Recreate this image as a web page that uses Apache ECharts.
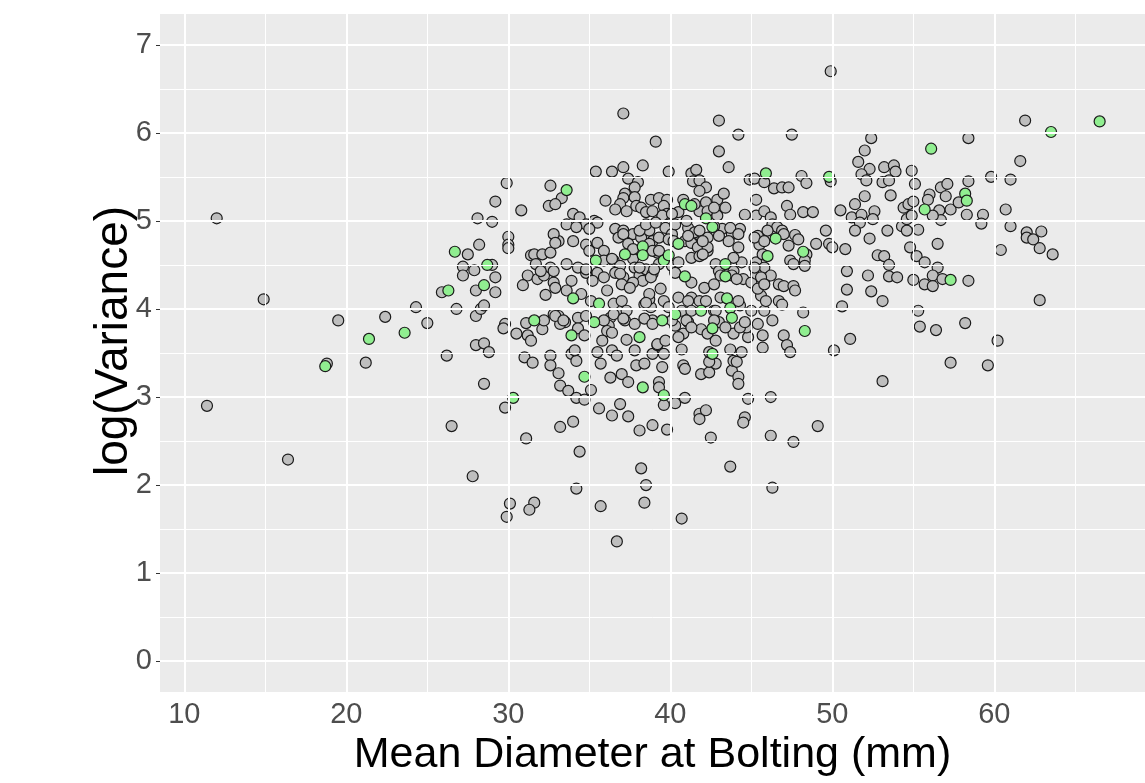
<!DOCTYPE html>
<html>
<head>
<meta charset="utf-8">
<script src="https://cdn.jsdelivr.net/npm/echarts@6/dist/echarts.min.js"></script>
<style>
  html, body { margin: 0; padding: 0; background: #fff; }
  #chart { width: 1145px; height: 783px; }
</style>
</head>
<body>
<div id="chart"></div>
<script>
// mean diameter at bolting (mm) / log(variance), plants in gray
const grayDiam = [
  11.4, 12.0, 14.9, 16.4, 18.8, 19.5, 21.2, 22.4, 24.3, 25.0, 25.9, 26.2, 26.5, 27.8, 26.8, 28.0, 28.3, 28.5, 28.0, 28.5,
  28.8, 28.5, 29.8, 31.1, 29.8, 29.7, 30.5, 31.2, 31.4, 31.1, 32.1, 32.2, 31.0, 31.5, 32.6, 32.6, 32.3, 29.2, 28.0, 30.1,
  31.6, 31.3, 29.9, 35.7, 36.7, 38.5, 38.4, 40.7, 34.2, 38.2, 43.7, 46.3,
  29.9, 32.6, 29.2, 30.8, 32.5, 28.1, 29.0, 30.0, 30.0, 30.0, 28.2, 27.5, 27.2, 27.9, 27.2, 29.0, 29.2, 31.4, 31.6, 32.1,
  32.6, 31.7, 31.2, 31.8, 32.2, 30.9, 32.6, 32.8,
  37.1, 43.0, 44.2, 39.1, 43.0, 43.6, 35.4, 36.4, 37.1, 38.3, 39.9, 44.9, 45.2, 45.8, 41.3, 41.6, 41.4, 41.8, 42.2, 41.8,
  37.4, 38.0, 37.8, 33.3, 32.9, 37.2, 37.1, 36.9, 37.8, 37.9, 36.0, 36.6, 37.3, 38.2, 38.5, 38.8, 39.3, 39.8, 39.6, 39.8,
  39.5, 40.8, 40.5, 42.2, 42.9, 43.3, 43.4, 41.8, 42.3, 42.9, 44.6, 45.3, 45.8, 45.3, 34.0, 34.4, 34.8, 35.3, 35.5, 33.6,
  34.2, 35.0, 34.0, 34.8, 35.5, 33.1, 32.8, 36.6, 37.1, 36.8, 37.7, 38.2, 38.7, 38.9, 39.3, 39.7, 40.1, 39.9, 40.9, 41.3,
  41.7, 42.3, 41.7, 42.3, 41.1, 41.5, 43.2, 43.8, 44.3, 44.2, 44.4, 43.9, 45.4, 45.5, 45.3, 45.8, 35.0, 35.9, 35.9, 33.6,
  34.3, 34.8, 35.5, 36.5, 36.9, 36.6, 37.1, 37.7, 37.8, 38.1, 38.5, 38.9, 39.2, 39.3, 40.1, 40.3, 40.5, 41.3, 41.8, 42.3,
  42.8, 43.0, 43.9, 44.5, 45.0, 45.3, 45.8,
  47.5, 52.4, 58.4, 52.0, 51.6, 52.3, 51.8, 52.1, 53.2, 53.8, 53.9, 54.9, 53.1, 53.5, 55.1, 53.6, 52.0, 51.4, 49.9, 48.1,
  48.4, 46.4, 46.9, 47.3, 47.2, 47.4, 48.2, 48.8, 50.5, 51.2, 51.8, 51.7, 51.4, 52.6, 52.5, 49.6, 49.8, 50.0, 50.8, 49.0,
  52.3, 53.4, 54.3, 54.6, 54.9, 55.3, 54.6, 54.4, 54.7, 55.0, 56.0, 55.9, 56.7, 57.1, 57.0, 56.6, 56.7, 56.2, 57.3, 57.8,
  58.4, 58.3, 59.3, 59.2, 46.2, 46.3, 46.6, 46.9, 47.0, 47.7, 47.9, 47.3, 48.4, 48.3, 48.3, 47.4, 47.6, 46.2, 46.7, 47.0,
  47.6, 50.9, 52.2, 52.8, 53.2, 53.5, 53.5, 54.0, 54.8, 55.2, 55.7, 56.5, 56.5, 56.2, 56.8, 55.7, 56.2, 58.4, 55.0, 50.9,
  61.9, 61.6, 59.8, 61.0, 60.7, 61.0, 62.0, 62.0, 62.4, 62.9, 62.8, 63.6, 60.4, 62.8, 60.2, 59.6,
  46.7, 46.9, 47.7, 52.4, 53.1, 50.6, 48.2, 46.3, 47.0, 47.2, 47.4, 51.1, 50.1, 55.3, 55.4, 56.4, 58.2, 57.3, 53.1, 46.2,
  49.1, 46.2, 47.6, 49.9,
  33.2, 34.0, 34.4, 35.6, 36.4, 36.9, 37.4, 38.1, 38.9, 39.8, 39.6, 40.3, 40.9, 41.8, 41.8, 42.2, 42.5, 44.6, 44.5, 44.8,
  33.1, 33.2, 33.7, 34.2, 34.7, 35.1, 33.9, 34.2, 34.1, 35.5, 35.7, 36.3, 36.4, 36.7, 37.0, 37.4, 37.8, 37.9, 38.4, 38.9,
  39.2, 39.6, 39.5, 39.3, 39.3, 40.8, 40.9, 41.9, 42.4, 42.8, 42.4, 42.4, 43.8, 44.2, 44.2, 43.9, 44.1, 44.4, 43.7, 45.7,
  45.7, 44.8, 44.7, 32.8, 33.1, 33.5, 33.2, 34.3, 34.8, 34.3, 34.7, 36.3, 36.2, 36.1, 36.4, 35.8, 36.9, 37.2, 37.3, 37.8,
  38.4, 38.8, 38.9, 38.7, 39.2, 39.7, 40.3, 40.8, 41.1, 40.5, 40.7, 41.3, 41.8, 41.9, 42.3, 42.8, 42.7, 43.0, 43.9, 44.3,
  44.3, 45.0, 45.6
];
const grayLogVar = [
  2.90, 5.03, 4.11, 2.29, 3.38, 3.87, 3.39, 3.91, 4.02, 3.84, 4.19, 3.47, 2.67, 2.10, 4.00, 3.92, 4.00, 4.04, 3.59, 3.61,
  3.51, 3.15, 2.88, 2.53, 3.83, 3.78, 3.72, 3.70, 3.64, 3.84, 3.77, 3.87, 3.45, 3.39, 3.47, 3.36, 4.16, 4.19, 4.21, 1.79,
  1.80, 1.72, 1.64, 1.76, 1.36, 2.00, 1.80, 1.62, 1.96, 2.19, 2.21, 1.97,
  5.43, 5.40, 5.22, 5.12, 5.17, 5.03, 4.99, 4.82, 4.73, 4.69, 4.73, 4.62, 4.48, 4.44, 4.38, 4.50, 4.36, 4.61, 4.62, 4.62,
  4.64, 4.51, 4.38, 4.34, 4.38, 4.27, 4.47, 4.30,
  6.22, 6.14, 5.98, 5.90, 5.79, 5.61, 5.56, 5.56, 5.61, 5.63, 5.56, 5.47, 5.48, 5.44, 5.54, 5.58, 5.45, 5.46, 5.38, 5.34,
  5.48, 5.44, 5.38, 5.26, 5.19, 5.31, 5.26, 5.19, 5.27, 5.17, 5.23, 5.13, 5.11, 5.15, 5.10, 5.24, 5.26, 5.24, 5.17, 5.08,
  5.06, 5.24, 5.10, 5.21, 5.24, 5.31, 5.15, 5.11, 5.11, 5.06, 5.07, 5.06, 5.11, 5.24, 5.08, 5.04, 4.96, 5.00, 4.98, 4.96,
  4.93, 4.91, 4.77, 4.73, 4.75, 4.77, 4.85, 4.91, 4.89, 4.81, 4.85, 4.81, 4.89, 4.77, 4.81, 4.92, 4.85, 4.79, 4.77, 4.75,
  4.85, 4.81, 4.70, 4.66, 4.92, 4.87, 4.91, 4.85, 4.91, 4.70, 4.53, 4.58, 4.83, 4.73, 4.53, 4.47, 4.66, 4.66, 4.55, 4.51,
  4.47, 4.41, 4.41, 4.55, 4.49, 4.41, 4.36, 4.57, 4.47, 4.38, 4.45, 4.40, 4.64, 4.51, 4.49, 4.41, 4.53, 4.58, 4.60, 4.70,
  4.51, 4.43, 4.43, 4.34, 4.30, 4.40, 4.32,
  5.98, 5.94, 5.94, 5.80, 5.67, 5.59, 5.53, 5.46, 5.61, 5.63, 5.56, 5.57, 5.44, 5.46, 5.42, 5.29, 5.28, 5.19, 5.45, 5.51,
  5.43, 5.37, 5.38, 5.38, 5.17, 5.07, 5.10, 5.10, 5.12, 5.04, 5.07, 4.98, 4.89, 5.11, 5.02, 4.89, 4.74, 4.70, 4.68, 4.74,
  4.80, 4.89, 4.94, 5.02, 5.06, 4.90, 4.89, 5.15, 5.19, 5.22, 5.30, 5.24, 5.38, 5.42, 5.28, 5.12, 5.01, 5.06, 5.13, 5.21,
  5.45, 5.07, 5.07, 4.97, 5.04, 4.96, 4.93, 4.89, 4.85, 4.84, 4.79, 4.72, 4.62, 4.55, 4.49, 4.55, 4.51, 4.38, 4.28, 4.26,
  4.26, 4.43, 4.38, 4.61, 4.60, 4.50, 4.37, 4.36, 4.70, 4.60, 4.53, 4.74, 4.47, 4.38, 4.34, 4.28, 4.26, 4.32, 4.33, 4.22,
  6.14, 5.68, 5.50, 5.47, 5.13, 4.94, 4.87, 4.81, 4.79, 4.88, 4.69, 4.62, 4.67, 4.10, 3.64, 3.36,
  4.09, 4.05, 4.21, 4.20, 4.09, 4.03, 3.96, 3.87, 3.70, 3.59, 3.51, 3.66, 3.53, 3.98, 3.80, 3.76, 3.84, 3.39, 3.18, 3.00,
  2.67, 2.56, 2.49, 6.70,
  2.66, 2.72, 2.38, 2.87, 2.79, 2.92, 2.78, 2.62, 2.68, 2.63, 2.91, 2.93, 2.99, 2.81, 2.75, 2.85, 2.54, 2.77, 2.71, 2.98,
  3.27, 3.13, 3.07, 2.99, 2.97, 3.08, 3.49, 3.41, 3.53, 3.51, 3.38, 3.22, 3.53, 3.47, 3.26, 3.17, 3.53, 3.36, 3.38, 3.49,
  3.59, 3.49, 3.34, 3.17, 3.11, 3.36, 3.32, 3.26, 3.28, 3.38, 3.40, 3.51, 3.30, 3.23, 3.15, 3.41, 3.40, 3.51, 3.54, 3.70,
  3.56, 3.68, 3.79, 3.94, 3.92, 3.85, 3.83, 3.90, 3.92, 3.78, 3.70, 3.90, 3.81, 3.75, 3.73, 3.64, 4.00, 3.87, 3.65, 3.83,
  4.05, 4.02, 3.87, 4.11, 3.60, 3.64, 3.81, 3.72, 3.85, 3.68, 3.54, 4.13, 4.09, 3.77, 3.72, 3.64, 3.98, 3.85, 3.72, 3.79,
  4.04, 3.98, 4.15
];
// extra gray plants read from the crowded middle of the cloud
const denseDiam = [
  38.9, 41.5, 42.7, 38.1, 38.5, 39.1, 40.1, 40.3, 41.0, 41.8, 42.7, 43.7, 46.0, 32.9, 37.1, 37.4, 37.7, 38.7, 38.9, 39.3,
  40.2, 41.1, 42.0, 42.0, 43.0, 43.6, 44.2, 45.2, 45.8, 45.7, 32.0, 32.8, 34.8, 33.9, 35.2, 35.9, 36.4, 36.9, 37.0, 38.1,
  38.3, 38.8, 39.0, 37.7, 37.5, 41.3, 42.1, 42.7, 43.1, 43.8, 44.1, 45.2, 45.6, 45.4, 45.8, 32.9, 33.6, 34.5, 35.1, 36.1,
  36.5, 37.0, 36.5, 37.3, 38.7, 38.5, 39.4, 39.6, 39.9, 40.5, 41.1, 40.7, 41.3, 42.2, 42.8, 43.1, 44.2, 45.8, 45.9, 32.9,
  33.4, 35.9, 37.1, 38.4, 38.9, 40.1, 41.0, 41.3, 42.7, 43.4, 44.6, 45.4
];
const denseLogVar = [
  5.11, 5.19, 5.15, 4.89, 4.96, 4.98, 5.08, 4.96, 5.00, 4.89, 4.94, 4.92, 4.89, 4.75, 4.85, 4.74, 4.68, 4.74, 4.66, 4.66,
  4.77, 4.83, 4.77, 4.62, 4.83, 4.77, 4.85, 4.81, 4.77, 4.62, 4.43, 4.43, 4.45, 4.32, 4.32, 4.36, 4.57, 4.40, 4.28, 4.47,
  4.32, 4.36, 4.45, 4.30, 4.24, 4.30, 4.24, 4.28, 4.38, 4.38, 4.34, 4.47, 4.36, 4.23, 4.28, 4.24, 4.21, 4.17, 4.09, 4.21,
  4.06, 4.09, 3.94, 3.98, 4.17, 4.07, 4.23, 4.09, 4.02, 4.13, 4.09, 3.98, 3.98, 4.09, 3.98, 4.13, 4.09, 3.98, 4.09, 3.92,
  3.87, 3.87, 3.89, 3.89, 3.83, 3.87, 3.87, 3.79, 3.87, 3.79, 3.85, 3.83
];
// highlighted plants in light green
const greenDiam = [
  18.7, 21.4, 23.6, 26.3, 26.7, 28.7, 28.5, 30.3, 31.6, 33.6, 40.9, 41.3, 42.2, 42.6, 45.9, 35.4, 37.2, 38.3, 38.3, 39.6,
  39.9, 40.9, 43.4, 43.4, 40.5, 49.8, 56.1, 55.7, 58.2, 58.3, 46.5, 48.2, 46.0, 57.3, 48.3, 63.5, 66.5, 34.0, 35.6, 35.3,
  33.9, 38.1, 39.5, 40.3, 41.9, 43.5, 43.7, 43.8, 42.6, 42.6, 34.7, 38.3, 39.6
];
const greenLogVar = [
  3.35, 3.66, 3.73, 4.21, 4.65, 4.50, 4.27, 2.99, 3.87, 5.35, 5.19, 5.17, 5.03, 4.93, 5.54, 4.55, 4.62, 4.71, 4.61, 4.55,
  4.61, 4.37, 4.51, 4.37, 4.74, 5.50, 5.82, 5.13, 5.31, 5.23, 4.80, 4.65, 4.60, 4.33, 3.75, 6.01, 6.13, 4.12, 4.06, 3.85,
  3.70, 3.68, 3.87, 3.94, 3.98, 4.12, 4.01, 3.90, 3.78, 3.49, 3.23, 3.11, 3.02
];
// axis breaks
const xBreaks = [10, 20, 30, 40, 50, 60];
const xMinorBreaks = [15, 25, 35, 45, 55, 65];
const yBreaks = [0, 1, 2, 3, 4, 5, 6, 7];
const yMinorBreaks = [0.5, 1.5, 2.5, 3.5, 4.5, 5.5, 6.5];

const zip = (xs, ys) => xs.map((x, i) => [x, ys[i]]);

const fontFamily = '"Liberation Sans", Arial, sans-serif';

// ggplot style grid lines drawn through the axis scales
const gridLines = [
  ...xMinorBreaks.map(v => ({ xAxis: v, lineStyle: { width: 1 } })),
  ...yMinorBreaks.map(v => ({ yAxis: v, lineStyle: { width: 1 } })),
  ...xBreaks.map(v => ({ xAxis: v, lineStyle: { width: 2 } })),
  ...yBreaks.map(v => ({ yAxis: v, lineStyle: { width: 2 } }))
];

const chart = echarts.init(document.getElementById('chart'));
chart.setOption({
  animation: false,
  backgroundColor: '#ffffff',
  grid: {
    left: 160,
    top: 14,
    width: 999,
    height: 678,
    show: true,
    backgroundColor: '#EBEBEB',
    borderWidth: 0
  },
  xAxis: {
    type: 'value',
    min: 8.5,
    max: 69.3,
    axisLine: { show: false },
    axisTick: { show: true, length: 4, customValues: xBreaks, lineStyle: { color: '#333333', width: 1 } },
    axisLabel: { customValues: xBreaks, fontSize: 29, color: '#4D4D4D', margin: 8, fontFamily },
    splitLine: { show: false },
    name: 'Mean Diameter at Bolting (mm)',
    nameLocation: 'middle',
    nameGap: 38,
    nameTextStyle: { fontSize: 43, color: '#000000', fontFamily }
  },
  yAxis: {
    type: 'value',
    min: -0.35,
    max: 7.35,
    axisLine: { show: false },
    axisTick: { show: true, length: 4, customValues: yBreaks, lineStyle: { color: '#333333', width: 1 } },
    axisLabel: { customValues: yBreaks, fontSize: 29, color: '#4D4D4D', margin: 8, fontFamily },
    splitLine: { show: false },
    name: 'log(Variance)',
    nameLocation: 'middle',
    nameGap: 23,
    nameMoveOverlap: false,
    nameTextStyle: { fontSize: 46, color: '#000000', fontFamily, padding: [0, 0, 0, 24] }
  },
  series: [
    {
      type: 'scatter',
      data: [],
      z: 1,
      silent: true,
      markLine: {
        silent: true,
        symbol: ['none', 'none'],
        label: { show: false },
        lineStyle: { color: '#FFFFFF', type: 'solid' },
        data: gridLines
      }
    },
    {
      name: 'gray',
      type: 'scatter',
      z: 3,
      symbolSize: 11,
      itemStyle: { color: '#BEBEBE', borderColor: '#1A1A1A', borderWidth: 1.2, opacity: 1 },
      data: zip(grayDiam, grayLogVar).concat(zip(denseDiam, denseLogVar))
    },
    {
      name: 'green',
      type: 'scatter',
      z: 4,
      symbolSize: 11,
      itemStyle: { color: '#90EE90', borderColor: '#1A1A1A', borderWidth: 1.2, opacity: 1 },
      data: zip(greenDiam, greenLogVar)
    }
  ]
});
</script>
</body>
</html>
